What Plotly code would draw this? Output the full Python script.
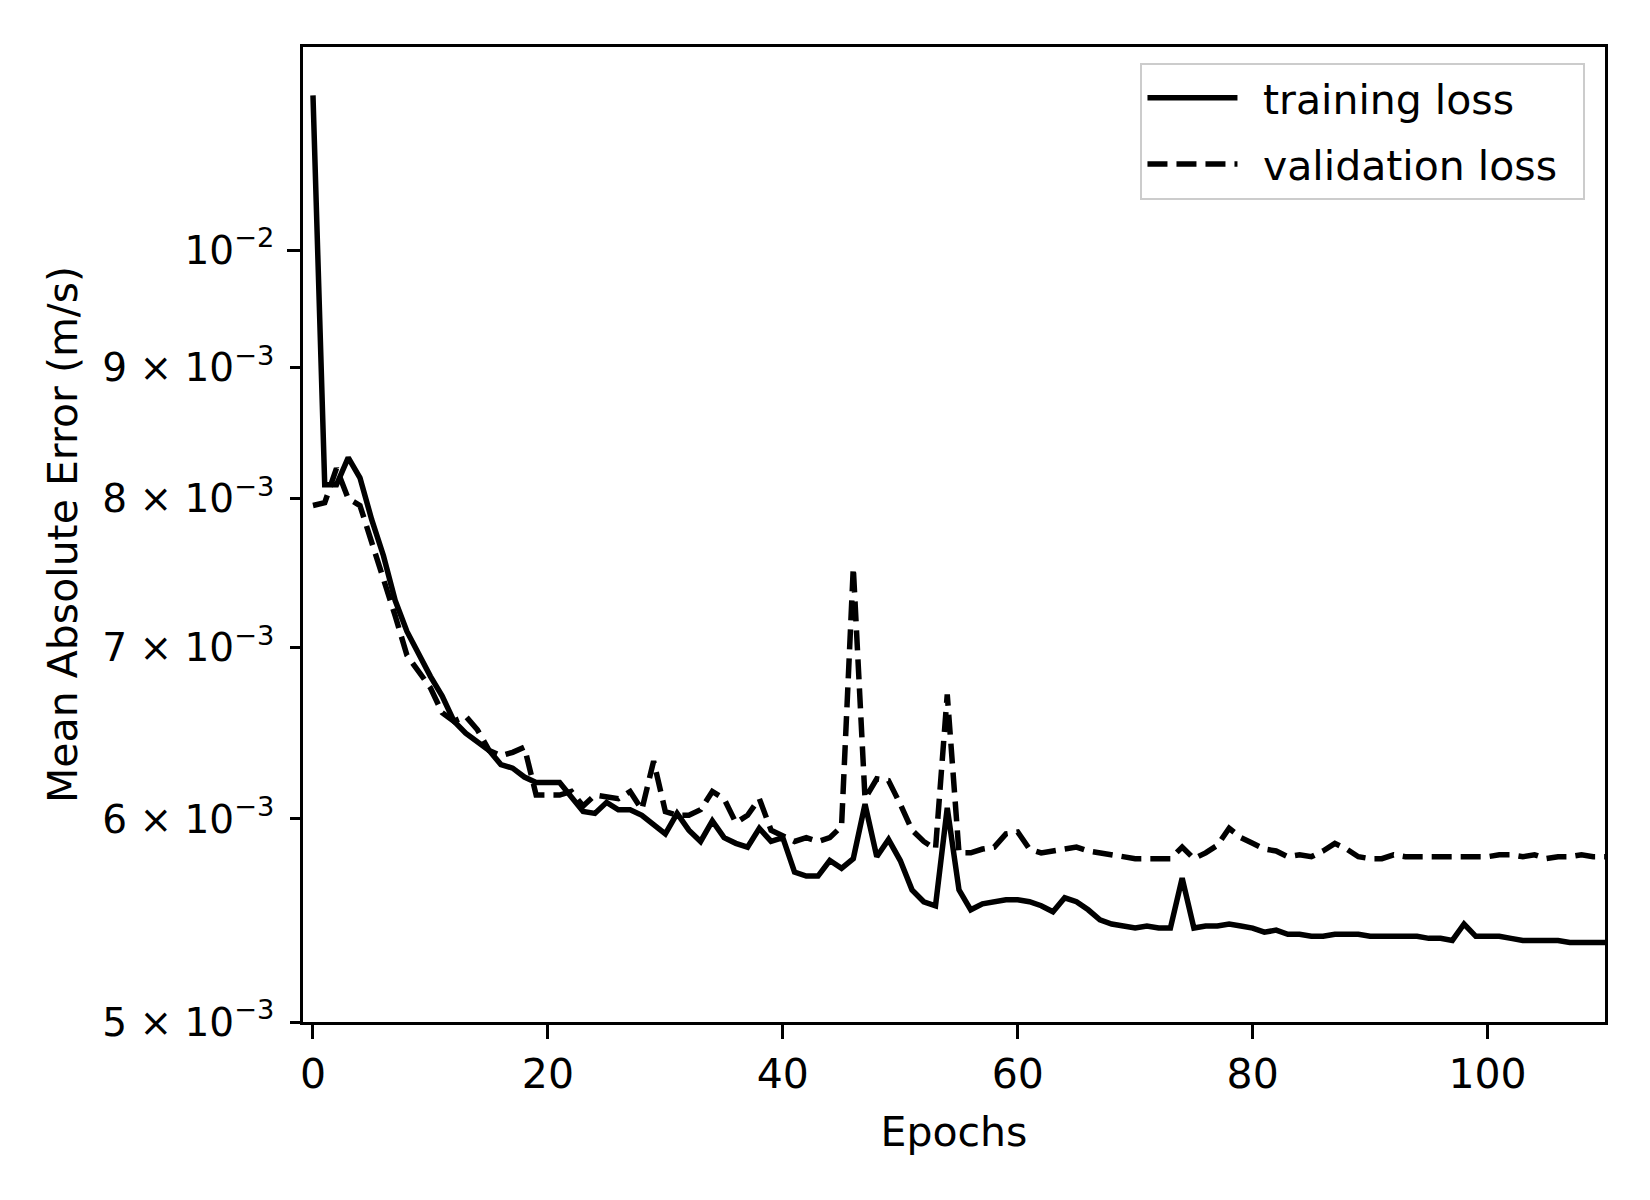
import plotly.graph_objects as go

epochs = list(range(0, 111))

training_loss = [
    0.01149, 0.00810, 0.00810, 0.00830, 0.00815, 0.00785, 0.00760, 0.00730, 0.00710, 0.00695,
    0.00682, 0.00670, 0.00655, 0.00648, 0.00643, 0.00638, 0.00630, 0.00628, 0.00623, 0.00620,
    0.00620, 0.00620, 0.00612, 0.00604, 0.00603, 0.00609, 0.00605, 0.00605, 0.00602, 0.00597,
    0.00592, 0.00603, 0.00594, 0.00588, 0.00599, 0.00590, 0.00587, 0.00585, 0.00595, 0.00588,
    0.00590, 0.00572, 0.00570, 0.00570, 0.00578, 0.00574, 0.00579, 0.00608, 0.00580, 0.00589,
    0.00578, 0.00563, 0.00557, 0.00555, 0.00606, 0.00563, 0.00553, 0.00556, 0.00557, 0.00558,
    0.00558, 0.00557, 0.00555, 0.00552, 0.00559, 0.00557, 0.00553, 0.00548, 0.00546, 0.00545,
    0.00544, 0.00545, 0.00544, 0.00544, 0.00569, 0.00544, 0.00545, 0.00545, 0.00546, 0.00545,
    0.00544, 0.00542, 0.00543, 0.00541, 0.00541, 0.00540, 0.00540, 0.00541, 0.00541, 0.00541,
    0.00540, 0.00540, 0.00540, 0.00540, 0.00540, 0.00539, 0.00539, 0.00538, 0.00546, 0.00540,
    0.00540, 0.00540, 0.00539, 0.00538, 0.00538, 0.00538, 0.00538, 0.00537, 0.00537, 0.00537,
    0.00537,
]

validation_loss = [
    0.00795, 0.00797, 0.00822, 0.00800, 0.00795, 0.00770, 0.00745, 0.00720, 0.00695, 0.00685,
    0.00675, 0.00660, 0.00655, 0.00658, 0.00650, 0.00638, 0.00635, 0.00637, 0.00640, 0.00613,
    0.00613, 0.00613, 0.00615, 0.00607, 0.00613, 0.00612, 0.00611, 0.00615, 0.00605, 0.00632,
    0.00604, 0.00602, 0.00602, 0.00605, 0.00615, 0.00611, 0.00598, 0.00602, 0.00611, 0.00594,
    0.00591, 0.00588, 0.00590, 0.00588, 0.00590, 0.00596, 0.00752, 0.00611, 0.00622, 0.00621,
    0.00608, 0.00594, 0.00588, 0.00584, 0.00671, 0.00582, 0.00582, 0.00584, 0.00585, 0.00592,
    0.00593, 0.00584, 0.00582, 0.00583, 0.00584, 0.00585, 0.00583, 0.00582, 0.00581, 0.00580,
    0.00579, 0.00579, 0.00579, 0.00579, 0.00585, 0.00579, 0.00582, 0.00586, 0.00595, 0.00590,
    0.00587, 0.00584, 0.00583, 0.00580, 0.00581, 0.00580, 0.00583, 0.00587, 0.00584, 0.00580,
    0.00579, 0.00579, 0.00581, 0.00580, 0.00580, 0.00580, 0.00580, 0.00580, 0.00580, 0.00580,
    0.00580, 0.00581, 0.00581, 0.00580, 0.00581, 0.00579, 0.00580, 0.00580, 0.00581, 0.00580,
    0.00580,
]

y_tick_vals = [0.005, 0.006, 0.007, 0.008, 0.009, 0.01]
y_tick_text = ["5 × 10<sup>−3</sup>", "6 × 10<sup>−3</sup>", "7 × 10<sup>−3</sup>",
               "8 × 10<sup>−3</sup>", "9 × 10<sup>−3</sup>", "10<sup>−2</sup>"]
x_tick_vals = [0, 20, 40, 60, 80, 100]

FONT = "DejaVu Sans"
FS = 41
YFS = 39

fig = go.Figure()
fig.add_trace(go.Scatter(x=epochs, y=training_loss, mode="lines", name="\u2002training loss\u2002",
                         legendgroup="a",
                         line=dict(color="black", width=5.5)))
fig.add_trace(go.Scatter(x=epochs, y=validation_loss, mode="lines", name="\u2002validation loss\u2002",
                         legendgroup="b",
                         line=dict(color="black", width=5.5, dash="20px,9px")))

fig.update_layout(
    width=1650, height=1200,
    paper_bgcolor="white", plot_bgcolor="white",
    margin=dict(l=295, r=53, t=39, b=186),
    font=dict(family=FONT, size=FS, color="black"),
    showlegend=True,
    legend=dict(
        x=0.985, y=0.984, xanchor="right", yanchor="top",
        bgcolor="rgba(255,255,255,0.8)", bordercolor="#cccccc", borderwidth=2,
        font=dict(family=FONT, size=FS),
        itemwidth=90, tracegroupgap=10, traceorder="grouped",
    ),
    xaxis=dict(
        range=[-0.85, 110], tickvals=x_tick_vals,
        showline=True, linecolor="black", linewidth=2.5, mirror=True,
        ticks="outside", ticklen=14, tickwidth=2.5, tickcolor="black",
        showgrid=False, zeroline=False,
        title=dict(text="Epochs", font=dict(family=FONT, size=FS), standoff=21),
        tickfont=dict(family=FONT, size=FS),
    ),
    yaxis=dict(
        type="log", range=[-2.30103, -1.92082],
        tickvals=y_tick_vals, ticktext=y_tick_text,
        showline=True, linecolor="black", linewidth=2.5, mirror=True,
        ticks="outside", ticklen=10, tickwidth=2.5, tickcolor="black",
        ticklabelstandoff=8,
        showgrid=False, zeroline=False,
        title=dict(text="Mean Absolute Error (m/s)", font=dict(family=FONT, size=FS), standoff=12),
        tickfont=dict(family=FONT, size=YFS),
    ),
    yaxis2=dict(
        type="log", range=[-2.30103, -1.92082], overlaying="y", side="left",
        tickvals=[0.01], showticklabels=False, ticks="outside", ticklen=15,
        tickwidth=2.5, tickcolor="black", showgrid=False, zeroline=False, showline=False,
    ),
)
fig.add_trace(go.Scatter(x=[None], y=[None], yaxis="y2", showlegend=False, hoverinfo="skip"))

fig.write_html("out.html")
